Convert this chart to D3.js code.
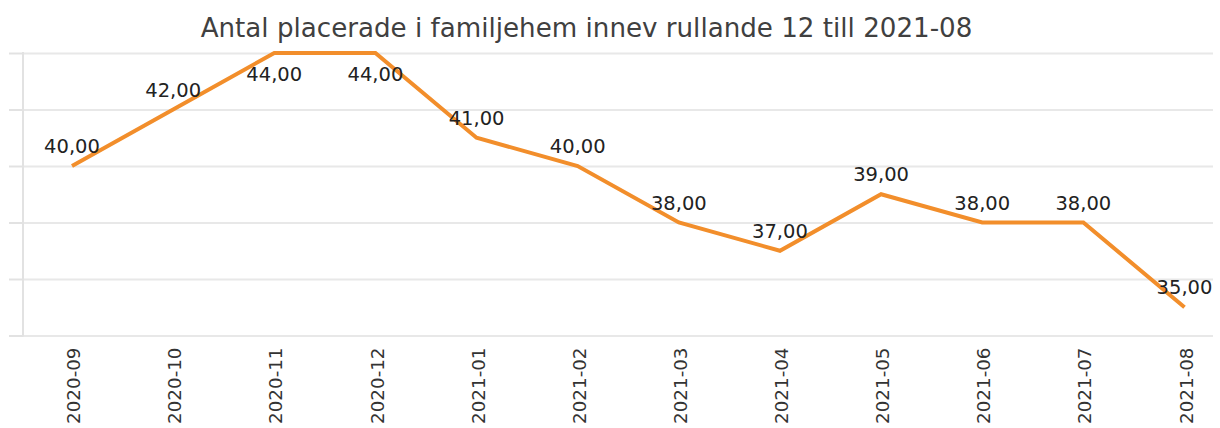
<!DOCTYPE html>
<html><head><meta charset="utf-8">
<script src="https://cdn.jsdelivr.net/npm/d3@7"></script>
<style>
html,body{margin:0;padding:0;background:#fff;}
svg{display:block;}
</style>
</head><body>
<script>
const categories = ["2020-09","2020-10","2020-11","2020-12","2021-01","2021-02","2021-03","2021-04","2021-05","2021-06","2021-07","2021-08"];
const values = [40,42,44,44,41,40,38,37,39,38,38,35];
const yTicks = [34,36,38,40,42,44];
const titleText = "Antal placerade i familjehem innev rullande 12 till 2021-08";

const W = 1220, H = 428;
const svg = d3.select("body").append("svg").attr("width", W).attr("height", H);

const plotLeft = 23, plotRight = 1213, plotTop = 53, plotBottom = 335.5;
const x = d3.scalePoint().domain(categories).range([72, 1184.5]);
const y = d3.scaleLinear().domain([34, 44]).range([plotBottom, plotTop]);

// gridlines via axis
const yAxis = d3.axisLeft(y).tickValues(yTicks).tickSize(-(plotRight - plotLeft)).tickFormat("");
const gy = svg.append("g").attr("transform", `translate(${plotLeft},0)`).call(yAxis);
gy.select(".domain").remove();
gy.selectAll(".tick line").attr("stroke", "#e8e8e8").attr("stroke-width", 2);
// small outer ticks left of the axis
const gt = svg.append("g").attr("transform", `translate(${plotLeft},0)`)
  .call(d3.axisLeft(y).tickValues(yTicks).tickSize(14).tickFormat(""));
gt.select(".domain").remove();
gt.selectAll(".tick line").attr("stroke", "#e2e2e2").attr("stroke-width", 2);

// vertical axis line
svg.append("line").attr("x1", plotLeft).attr("x2", plotLeft)
  .attr("y1", plotTop - 1).attr("y2", plotBottom + 1)
  .attr("stroke", "#e2e2e2").attr("stroke-width", 2);

// x axis labels
const xAxis = d3.axisBottom(x).tickSize(0).tickPadding(0);
const gx = svg.append("g").attr("transform", `translate(0,${plotBottom})`).call(xAxis);
gx.select(".domain").remove();
gx.selectAll(".tick text")
  .attr("transform", "rotate(-90)")
  .attr("x", -12).attr("y", 1).attr("dy", "0.36em")
  .attr("text-anchor", "end")
  .attr("font-family", "DejaVu Sans, Verdana, sans-serif")
  .attr("font-size", "18.3px")
  .attr("fill", "#333");

// line
const line = d3.line().x((d, i) => x(categories[i])).y(d => y(d));
svg.append("path").datum(values)
  .attr("d", line)
  .attr("fill", "none")
  .attr("stroke", "#f28e2b")
  .attr("stroke-width", 4)
  .attr("stroke-linejoin", "miter");

// value labels
svg.append("g").selectAll("text").data(values).join("text")
  .attr("x", (d, i) => x(categories[i]))
  .attr("y", d => d >= 44 ? y(d) + 28 : y(d) - 13)
  .attr("text-anchor", "middle")
  .attr("font-family", "DejaVu Sans, Verdana, sans-serif")
  .attr("font-size", "19.5px")
  .attr("fill", "#222")
  .text(d => d.toFixed(2).replace(".", ","));

// title
const title = svg.append("text")
  .attr("x", 586.5).attr("y", 37)
  .attr("text-anchor", "middle")
  .attr("font-family", "DejaVu Sans, Verdana, sans-serif")
  .attr("font-size", "23px")
  .attr("fill", "#404040")
  .text(titleText);
const tw = title.node().getComputedTextLength();
title.attr("font-size", (23 * 772 / tw).toFixed(2) + "px");
</script>
</body></html>
